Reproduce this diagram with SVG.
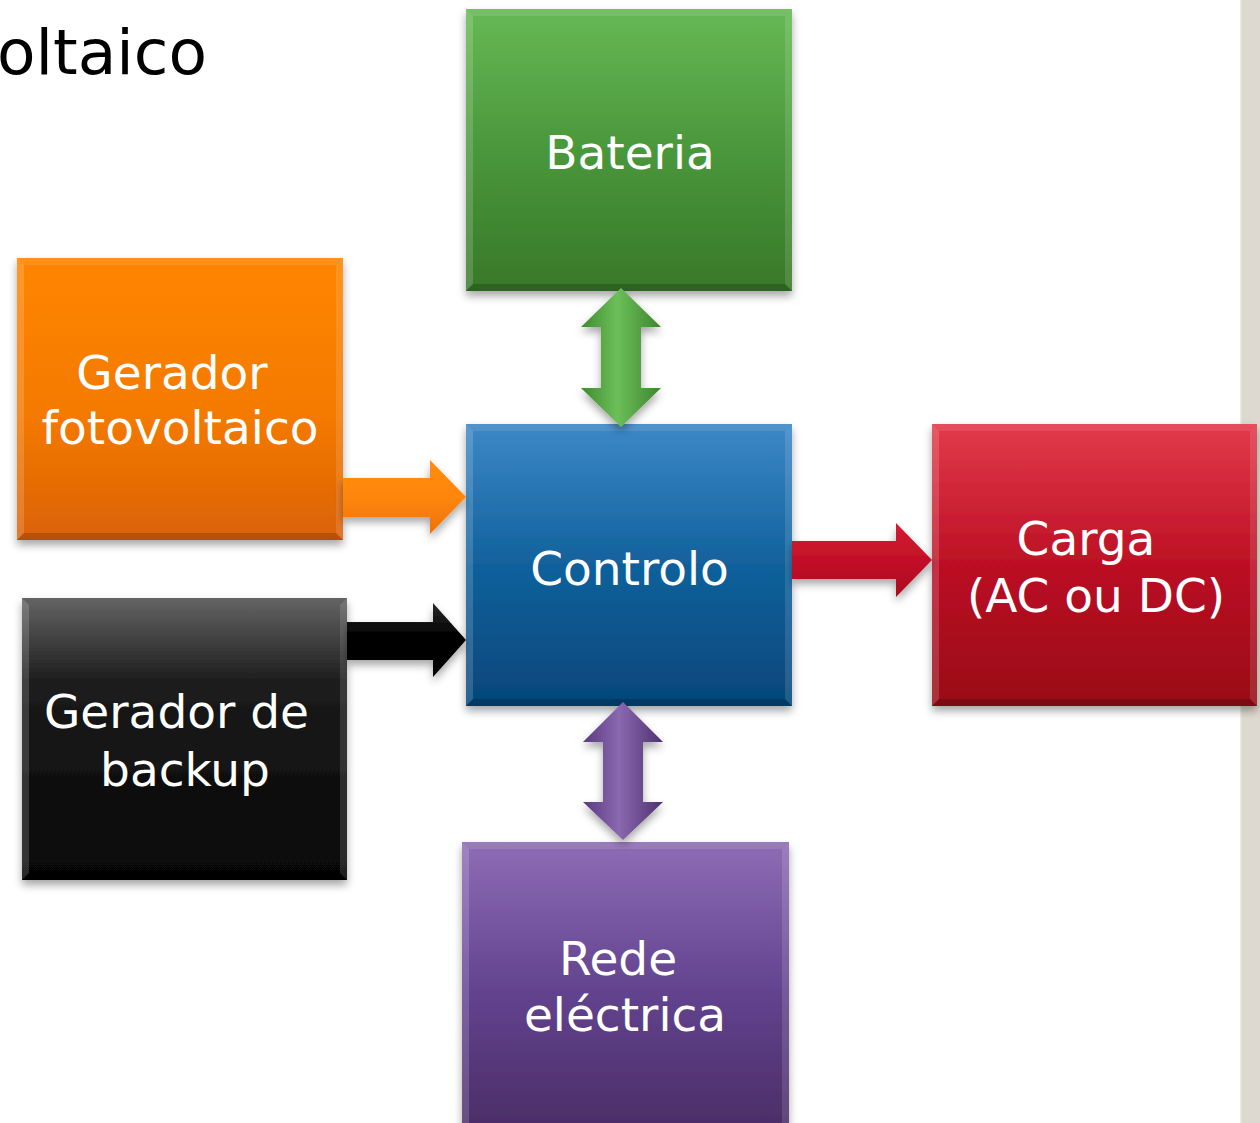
<svg xmlns="http://www.w3.org/2000/svg" width="1260" height="1123" viewBox="0 0 1260 1123">
<defs>
<style>
.lbl{font-family:"DejaVu Sans","Verdana",sans-serif;font-size:47px;fill:#ffffff;text-anchor:middle}
.title{font-family:"DejaVu Sans","Verdana",sans-serif;font-size:63px;fill:#000000}
.bl{fill:#ffffff;fill-opacity:0.16}
.br{fill:#ffffff;fill-opacity:0.12}
.bt{fill:#ffffff;fill-opacity:0.1}
.bb{fill:#000000;fill-opacity:0.18}
</style>
<filter id="sh" x="-10%" y="-10%" width="120%" height="125%">
<feDropShadow dx="0" dy="5" stdDeviation="4" flood-color="#000" flood-opacity="0.35"/>
</filter>
<linearGradient id="gGreen" x1="0" y1="0" x2="0" y2="1"><stop offset="0" stop-color="#66b955"/><stop offset="0.5" stop-color="#4a973b"/><stop offset="1" stop-color="#387829"/></linearGradient>
<linearGradient id="gOrange" x1="0" y1="0" x2="0" y2="1"><stop offset="0" stop-color="#ff8506"/><stop offset="0.55" stop-color="#f47a05"/><stop offset="1" stop-color="#dc6207"/></linearGradient>
<linearGradient id="gBlue" x1="0" y1="0" x2="0" y2="1"><stop offset="0" stop-color="#3d88c7"/><stop offset="0.5" stop-color="#11619c"/><stop offset="1" stop-color="#05467a"/></linearGradient>
<linearGradient id="gBlack" x1="0" y1="0" x2="0" y2="1"><stop offset="0" stop-color="#646464"/><stop offset="0.3" stop-color="#1c1c1c"/><stop offset="1" stop-color="#050505"/></linearGradient>
<linearGradient id="gRed" x1="0" y1="0" x2="0" y2="1"><stop offset="0" stop-color="#e33a4a"/><stop offset="0.5" stop-color="#bc1024"/><stop offset="1" stop-color="#980716"/></linearGradient>
<linearGradient id="gPurple" x1="0" y1="0" x2="0" y2="1"><stop offset="0" stop-color="#8e6db5"/><stop offset="0.5" stop-color="#634490"/><stop offset="1" stop-color="#4a2d66"/></linearGradient>
<linearGradient id="aGreen" x1="0" y1="0" x2="1" y2="0"><stop offset="0" stop-color="#3f8a30"/><stop offset="0.45" stop-color="#6cbf5a"/><stop offset="1" stop-color="#3d852e"/></linearGradient>
<linearGradient id="aPurple" x1="0" y1="0" x2="1" y2="0"><stop offset="0" stop-color="#5a3a80"/><stop offset="0.45" stop-color="#8a68b0"/><stop offset="1" stop-color="#4e3170"/></linearGradient>
<linearGradient id="aOrange" x1="0" y1="0" x2="0" y2="1"><stop offset="0" stop-color="#ff8c14"/><stop offset="0.5" stop-color="#ff8608"/><stop offset="1" stop-color="#ee7206"/></linearGradient>
<linearGradient id="aBlack" x1="0" y1="0" x2="0" y2="1"><stop offset="0" stop-color="#2a2a2a"/><stop offset="0.4" stop-color="#050505"/><stop offset="1" stop-color="#000000"/></linearGradient>
<linearGradient id="aRed" x1="0" y1="0" x2="0" y2="1"><stop offset="0" stop-color="#d21c30"/><stop offset="0.5" stop-color="#c4102a"/><stop offset="1" stop-color="#a80a1c"/></linearGradient>
</defs>
<rect x="0" y="0" width="1260" height="1123" fill="#ffffff"/>
<rect x="1240" y="0" width="20" height="1123" fill="#ddd9d0"/>
<rect x="1240" y="0" width="1.5" height="1123" fill="#eceae4"/>
<text class="title" x="-3" y="74">oltaico</text>

<g id="node-bateria">
<rect x="466" y="9" width="326" height="282" fill="url(#gGreen)" filter="url(#sh)"/>
<polygon class="bl" points="466,9 473,16 473,284 466,291"/>
<polygon class="br" points="792,9 785,16 785,284 792,291"/>
<polygon class="bt" points="466,9 792,9 785,16 473,16"/>
<polygon class="bb" points="466,291 792,291 785,284 473,284"/>
<text class="lbl" x="630" y="169">Bateria</text>
</g>

<g id="node-gerador-fv">
<rect x="17" y="258" width="326" height="282" fill="url(#gOrange)" filter="url(#sh)"/>
<polygon class="bl" points="17,258 24,265 24,533 17,540"/>
<polygon class="br" points="343,258 336,265 336,533 343,540"/>
<polygon class="bt" points="17,258 343,258 336,265 24,265"/>
<polygon class="bb" points="17,540 343,540 336,533 24,533"/>
<text class="lbl" x="172" y="389">Gerador</text>
<text class="lbl" x="180" y="444">fotovoltaico</text>
</g>

<g id="node-controlo">
<rect x="466" y="424" width="326" height="282" fill="url(#gBlue)" filter="url(#sh)"/>
<polygon class="bl" points="466,424 473,431 473,699 466,706"/>
<polygon class="br" points="792,424 785,431 785,699 792,706"/>
<polygon class="bt" points="466,424 792,424 785,431 473,431"/>
<polygon class="bb" points="466,706 792,706 785,699 473,699"/>
<text class="lbl" x="629.5" y="585">Controlo</text>
</g>

<g id="node-gerador-backup">
<rect x="22" y="598" width="325" height="282" fill="url(#gBlack)" filter="url(#sh)"/>
<polygon class="bl" points="22,598 29,605 29,873 22,880"/>
<polygon class="br" points="347,598 340,605 340,873 347,880"/>
<polygon class="bb" points="22,880 347,880 340,873 29,873"/>
<text class="lbl" x="176.5" y="728">Gerador de</text>
<text class="lbl" x="185" y="786">backup</text>
</g>

<g id="node-carga">
<rect x="932" y="424" width="325" height="282" fill="url(#gRed)" filter="url(#sh)"/>
<polygon class="bl" points="932,424 939,431 939,699 932,706"/>
<polygon class="br" points="1257,424 1250,431 1250,699 1257,706"/>
<polygon class="bt" points="932,424 1257,424 1250,431 939,431"/>
<polygon class="bb" points="932,706 1257,706 1250,699 939,699"/>
<text class="lbl" x="1086" y="555">Carga</text>
<text class="lbl" x="1096" y="612">(AC ou DC)</text>
</g>

<g id="node-rede">
<rect x="462" y="842" width="327" height="290" fill="url(#gPurple)" filter="url(#sh)"/>
<polygon class="bl" points="462,842 469,849 469,1123 462,1123"/>
<polygon class="br" points="789,842 782,849 782,1123 789,1123"/>
<polygon class="bt" points="462,842 789,842 782,849 469,849"/>
<text class="lbl" x="618" y="975">Rede</text>
<text class="lbl" x="625" y="1031">eléctrica</text>
</g>

<g id="connectors" filter="url(#sh)">
<polygon fill="url(#aOrange)" points="343,478 430,478 430,460 466,497 430,534 430,517 343,517"/>
<polygon fill="url(#aBlack)" points="347,622 433,622 433,603 466,640 433,677 433,660 347,660"/>
<polygon fill="url(#aRed)" points="792,541 896,541 896,523 932,560 896,597 896,579 792,579"/>
<polygon fill="url(#aGreen)" points="621,288 661,327 641,327 641,388 661,388 621,427 581,388 601,388 601,327 581,327"/>
<polygon fill="url(#aPurple)" points="623,702 663,742 643,742 643,802 663,802 623,840 583,802 603,802 603,742 583,742"/>
</g>
</svg>
